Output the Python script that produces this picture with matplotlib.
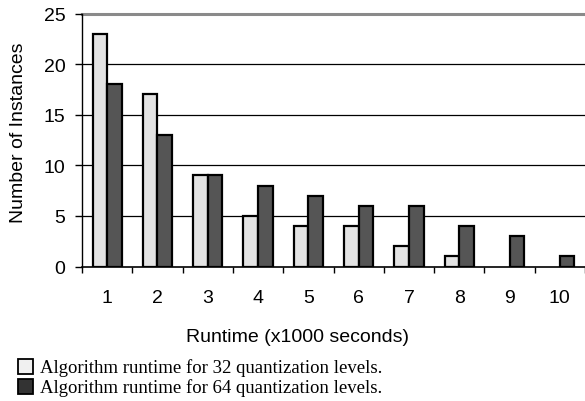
import matplotlib.pyplot as plt
from matplotlib.patches import Rectangle
import numpy as np

# Runtime bins (x1000 seconds) and instance counts
runtime_bins = [1, 2, 3, 4, 5, 6, 7, 8, 9, 10]
levels_32 = [23, 17, 9, 5, 4, 4, 2, 1, 0, 0]
levels_64 = [18, 13, 9, 8, 7, 6, 6, 4, 3, 1]
legend_labels = ['Algorithm runtime for 32 quantization levels.',
                 'Algorithm runtime for 64 quantization levels.']
legend_colors = ['#f0f0f0', '#333333']

plt.rcParams['font.family'] = 'Liberation Sans'

W, H = 585, 402
fig = plt.figure(figsize=(W / 100, H / 100), dpi=100)
ax = fig.add_axes([82/W, (H - 267.5)/H, 503/W, 253/H])

x = np.array(runtime_bins)
bw = 0.29
b1 = ax.bar(x - bw/2, levels_32, width=bw, color='#e3e3e3', edgecolor='black', linewidth=1.6, zorder=3)
b2 = ax.bar(x + bw/2, levels_64, width=bw, color='#555555', edgecolor='black', linewidth=1.6, zorder=3)
# empty bins show no bar at all
for p in list(b1) + list(b2):
    if p.get_height() == 0:
        p.set_visible(False)

ax.set_xlim(0.5, 10.5)
ax.set_ylim(0, 25)
ax.set_yticks([0, 5, 10, 15, 20, 25])

# gridlines: black at interior values, grey at the top
for v in [5, 10, 15, 20]:
    ax.axhline(v, color='black', linewidth=0.9, zorder=1)
ax.axhline(25, color='#8a8a8a', linewidth=2.2, zorder=1, clip_on=False)

for s in ['top', 'right']:
    ax.spines[s].set_visible(False)
ax.spines['left'].set_linewidth(1.0)
ax.spines['bottom'].set_linewidth(1.2)
ax.spines['bottom'].set_zorder(4)

ax.set_xticks(runtime_bins)
ax.set_xticks(np.arange(0.5, 11, 1), minor=True)
ax.tick_params(axis='x', which='major', length=0, pad=16.5, labelsize=14)
ax.tick_params(axis='x', which='minor', length=4, width=1, direction='out')
ax.tick_params(axis='y', length=5, width=1, pad=7, labelsize=14)

fig.text(297/W, 1 - 342/H, 'Runtime (x1000 seconds)', ha='center', va='baseline', fontsize=14)
fig.text(18.5/W, 1 - 133/H, 'Number of Instances', ha='center', va='center', rotation=90, fontsize=14)

# legend below the chart: square swatch + serif text per row
for i, (lab, col) in enumerate(zip(legend_labels, legend_colors)):
    base = 373 + 20 * i
    fig.patches.append(Rectangle((17.5/W, 1 - (base + 2)/H), 15/W, 15/H, transform=fig.transFigure,
                                 facecolor=col, edgecolor='black', linewidth=1.3))
    fig.text(40/W, 1 - base/H, lab, ha='left', va='baseline',
             family='Liberation Serif', fontsize=13.5)

fig.savefig('out.png', dpi=100)
